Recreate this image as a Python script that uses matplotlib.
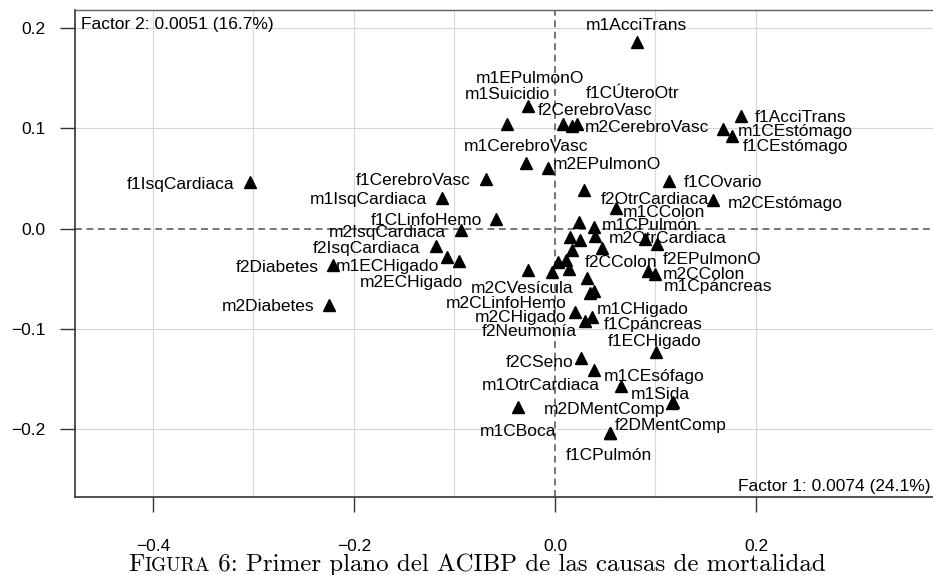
import matplotlib
matplotlib.use("Agg")
import matplotlib.pyplot as plt
from matplotlib.markers import MarkerStyle
from matplotlib.transforms import Affine2D

plt.rcParams['font.family'] = ['Liberation Sans', 'DejaVu Sans']
plt.rcParams['axes.unicode_minus'] = True

# coordenadas de las modalidades en el primer plano factorial
labels = [
    "m1AcciTrans", "f2CerebroVasc", "m1Suicidio", "m1EPulmonO", "f1CÚteroOtr",
    "m2CerebroVasc", "f1AcciTrans", "m1CEstómago", "f1CEstómago", "m1CerebroVasc",
    "m2EPulmonO", "f1CerebroVasc", "f1COvario", "f2OtrCardiaca", "f1IsqCardiaca",
    "m1IsqCardiaca", "m2CEstómago", "m1CColon", "f1CLinfoHemo", "m2IsqCardiaca",
    "", "m1CPulmón", "", "", "m2OtrCardiaca",
    "", "f2EPulmonO", "", "f2CColon", "f2IsqCardiaca",
    "f2Diabetes", "m1ECHigado", "m2ECHigado", "", "",
    "", "m2CVesícula", "", "m1Cpáncreas", "m2CColon",
    "", "m2CLinfoHemo", "m1CHigado", "m2Diabetes", "m2CHigado",
    "f2Neumonía", "f1Cpáncreas", "f1ECHigado", "f2CSeno", "m1CEsófago",
    "m1OtrCardiaca", "m1Sida", "m2DMentComp", "m1CBoca", "f2DMentComp",
    "f1CPulmón",
]
dim1 = [
    0.0813, -0.0266, -0.0481, 0.0083, 0.0166,
    0.0222, 0.1848, 0.1669, 0.1758, -0.0289,
    -0.0073, -0.0690, 0.1134, 0.0289, -0.3035,
    -0.1127, 0.1575, 0.0604, -0.0582, -0.0935,
    0.0242, 0.0385, 0.0149, 0.0246, 0.0395,
    0.0899, 0.1018, 0.0470, 0.0166, -0.1184,
    -0.2206, -0.1072, -0.0952, 0.0033, 0.0112,
    0.0142, -0.0266, -0.0033, 0.0923, 0.0995,
    0.0315, 0.0345, 0.0393, -0.2246, 0.0196,
    0.0303, 0.0368, 0.1005, 0.0256, 0.0391,
    0.0654, 0.1171, 0.1168, -0.0365, 0.0547,
    0.0544,
]
dim2 = [
    0.1858, 0.1220, 0.1047, 0.1047, 0.1027,
    0.1047, 0.1127, 0.0995, 0.0921, 0.0655,
    0.0605, 0.0499, 0.0474, 0.0389, 0.0462,
    0.0306, 0.0282, 0.0206, 0.0098, -0.0015,
    0.0063, 0.0017, -0.0085, -0.0113, -0.0077,
    -0.0105, -0.0155, -0.0193, -0.0217, -0.0177,
    -0.0359, -0.0282, -0.0326, -0.0336, -0.0309,
    -0.0397, -0.0414, -0.0434, -0.0417, -0.0449,
    -0.0492, -0.0638, -0.0625, -0.0758, -0.0835,
    -0.0925, -0.0878, -0.1234, -0.1290, -0.1406,
    -0.1566, -0.1733, -0.1737, -0.1779, -0.2038,
    -0.2042,
]

# colocacion de cada etiqueta: lado de anclaje y desplazamiento en pixeles
label_side = [
    'c', 'l', 'c', 'r', 'l',
    'l', 'l', 'l', 'l', 'c',
    'l', 'r', 'l', 'l', 'r',
    'r', 'l', 'l', 'r', 'r',
    '', 'l', '', '', 'l',
    '', 'l', '', 'l', 'r',
    'r', 'r', 'r', '', '',
    '', 'c', '', 'l', 'l',
    '', 'r', 'l', 'r', 'r',
    'r', 'l', 'c', 'r', 'l',
    'r', 'c', 'r', 'c', 'l',
    'c',
]
label_dx = [
    0, 9.0, 0.8, 21, 14,
    7.7, 14.3, 15, 10.6, -0.3,
    5, -15, 14.3, 17, -15.7,
    -15, 15, 7.6, -14.8, -15,
    0, 8.6, 0, 0, 14.6,
    0, 5, 0, 12.6, -15.3,
    -15, -8, 4, 0, 0,
    0, -6.1, 0, 16.2, 8.3,
    0, -23, 2.2, -15.3, -8,
    -8.8, 11.3, -1.8, -7.4, 9.7,
    -20.7, -12.7, -6.7, -0.5, 4.3,
    -0.5,
]
label_dy = [
    18.4, -2.6, 31.3, 46.7, 34,
    -2, 0, -0.7, -8.3, 18.3,
    5, -0.3, 0.5, -7.7, -0.6,
    0, -1, -2.4, 0.2, -0.2,
    0, 3.3, 0, 0, -0.6,
    0, -13.2, 0, -10.2, 0,
    -1, -7.7, -19, 0, 0,
    0, -16.2, 0, -14.2, 1.3,
    0, -8.7, -16.6, 0, -3,
    -8.3, -5.7, 12.7, -2.7, -5,
    1.7, 10, -4.6, -22.7, 9.3,
    -20.7,
]

x_ticks = [-0.4, -0.2, 0.0, 0.2]
x_tick_labels = ["\u22120.4", "\u22120.2", "0.0", "0.2"]
y_ticks = [-0.2, -0.1, 0.0, 0.1, 0.2]
y_tick_labels = ["\u22120.2", "\u22120.1", "0.0", "0.1", "0.2"]
x_grid = [-0.4, -0.3, -0.2, -0.1, 0.1, 0.2]
y_grid = [-0.2, -0.1, 0.1, 0.2]

factor1_txt = "Factor 1: 0.0074 (24.1%)"
factor2_txt = "Factor 2: 0.0051 (16.7%)"
caption = [("F", 1.0), ("IGURA", 0.78),
           (" 6: Primer plano del ACIBP de las causas de mortalidad", 1.0)]

W, H = 933, 575
fs = 12.5
fig = plt.figure(figsize=(W / 100, H / 100), dpi=100)
# el marco sigue mas alla del borde derecho de la figura
ax = fig.add_axes([75 / W, (H - 497) / H, (1000 - 75) / W, (497 - 10) / H])
ax.set_xlim(-0.4776, 0.4428)
ax.set_ylim(-0.2676, 0.2182)

for g in x_grid:
    ax.axvline(g, color='#d6d6d6', lw=0.8, zorder=0)
for g in y_grid:
    ax.axhline(g, color='#d6d6d6', lw=0.8, zorder=0)
ax.axvline(0, color='#505050', lw=1.1, ls=(0, (4.5, 3)), zorder=1)
ax.axhline(0, color='#505050', lw=1.1, ls=(0, (4.5, 3)), zorder=1)

tri = MarkerStyle('^', transform=Affine2D().scale(1.0, 0.9))
ax.plot(dim1, dim2, ls='none', marker=tri, ms=9, color='black', zorder=3)

cap_half = 0.358 * fs * 100 / 72
for lab, x, y, side, dx, dy in zip(labels, dim1, dim2, label_side, label_dx, label_dy):
    if not lab:
        continue
    ha = {'l': 'left', 'r': 'right', 'c': 'center'}[side]
    ax.annotate(lab, (x, y), xytext=(dx, dy - cap_half), textcoords='offset pixels',
                ha=ha, va='baseline', fontsize=fs, color='black', zorder=4)

for side in ['top', 'left', 'bottom', 'right']:
    ax.spines[side].set_color('#333333')
    ax.spines[side].set_linewidth(1.2)
ax.spines['top'].set_color('#606060')
ax.spines['top'].set_linewidth(1.0)

ax.set_xticks(x_ticks)
ax.set_xticklabels(x_tick_labels)
ax.set_yticks(y_ticks)
ax.set_yticklabels(y_tick_labels)
ax.tick_params(axis='both', direction='out', length=10.5, width=1.0, color='#333333',
               labelsize=fs)
ax.tick_params(axis='x', pad=19.5)
ax.tick_params(axis='y', pad=11)

fig.text(81 / W, 1 - 24 / H, factor2_txt, ha='left', va='center', fontsize=fs)
fig.text(930 / W, 1 - 487 / H, factor1_txt, ha='right', va='center', fontsize=fs)

# pie de figura en versalitas, pieza a pieza sobre la misma linea base
renderer = fig.canvas.get_renderer()
cap_fs = 17.9
px = 128
for txt, scale in caption:
    t = fig.text(px / W, 1 - 571 / H, txt, family='cmr10', fontsize=cap_fs * scale,
                 ha='left', va='baseline')
    px += t.get_window_extent(renderer).width

fig.savefig('out.png', dpi=100)
